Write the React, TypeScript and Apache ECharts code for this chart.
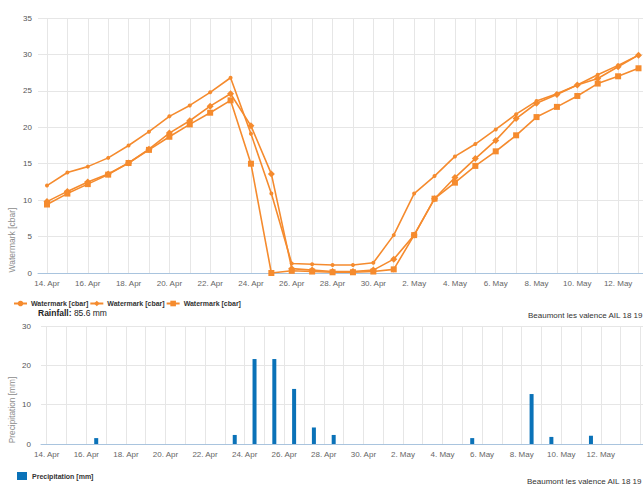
import React, { useEffect, useRef } from "react";
import * as echarts from "echarts";

// Day index 0 = 14 Apr, one value per day up to 13 May
const tickDays = [0, 2, 4, 6, 8, 10, 12, 14, 16, 18, 20, 22, 24, 26, 28];
const tickLabels = [
  "14. Apr", "16. Apr", "18. Apr", "20. Apr", "22. Apr", "24. Apr", "26. Apr", "28. Apr",
  "30. Apr", "2. May", "4. May", "6. May", "8. May", "10. May", "12. May",
];

const watermarkA = [
  12.0, 13.8, 14.6, 15.8, 17.5, 19.4, 21.5, 23.0, 24.8, 26.8, 19.1, 10.9, 1.3, 1.2, 1.1,
  1.1, 1.4, 5.2, 10.9, 13.3, 16.0, 17.7, 19.7, 21.8, 23.6, 24.6, 25.8, 27.2, 28.5, 29.9,
];
const watermarkB = [
  9.8, 11.2, 12.5, 13.6, 15.1, 17.0, 19.2, 20.9, 22.9, 24.6, 20.2, 13.6, 0.6, 0.4, 0.2,
  0.2, 0.4, 1.9, 5.2, 10.2, 13.1, 15.7, 18.2, 21.2, 23.3, 24.5, 25.8, 26.7, 28.3, 29.9,
];
const watermarkC = [
  9.4, 10.9, 12.2, 13.5, 15.1, 16.9, 18.7, 20.4, 22.0, 23.7, 15.0, 0.0, 0.3, 0.2, 0.1,
  0.1, 0.2, 0.5, 5.2, 10.2, 12.4, 14.7, 16.7, 18.9, 21.4, 22.8, 24.3, 26.0, 27.0, 28.1,
];

// Precipitation measured at midday of these days
const precipDays = [2, 9, 10, 11, 12, 13, 14, 21, 24, 25, 27];
const precipValues = [1.5, 2.3, 21.6, 21.6, 14.0, 4.2, 2.3, 1.5, 12.7, 1.8, 2.1];

const stationName = "Beaumont les valence AIL 18 19";

const ORANGE = "#f58b2e";
const BLUE = "#0a72b8";
const GRID = "#e6e6e6";
const FONT = "Liberation Sans";

export default function App() {
  const ref = useRef<HTMLDivElement>(null);

  useEffect(() => {
    if (!ref.current) return;
    const chart = echarts.init(ref.current, undefined, { renderer: "svg" });

    const toPairs = (arr: number[]) => arr.map((v, i) => [i, v]);
    const rainSum = precipValues.reduce((a, b) => a + b, 0);
    const topGridDays = watermarkA.map((_, i) => i);
    const bottomGridDays = [...topGridDays, topGridDays.length];
    const labelFmt = (v: number) => {
      const k = tickDays.indexOf(Math.round(v));
      return k >= 0 ? tickLabels[k] : "";
    };

    const xCommon = {
      type: "value",
      splitLine: { show: false },
      axisTick: { show: false },
      axisLine: { show: true, lineStyle: { color: "#a9c4de", width: 1 } },
      axisLabel: {
        customValues: tickDays,
        formatter: labelFmt,
        color: "#666",
        fontSize: 8,
        fontFamily: FONT,
        margin: 6,
      },
    };

    const gridMarkLine = (days: number[]) => ({
      silent: true,
      symbol: ["none", "none"],
      label: { show: false },
      lineStyle: { color: GRID, type: "solid", width: 1 },
      emphasis: { disabled: true },
      data: days.map((d) => ({ xAxis: d })),
    });

    const lineSeries = (name: string, arr: number[], symbol: string, size: number) => ({
      name,
      type: "line",
      xAxisIndex: 0,
      yAxisIndex: 0,
      data: toPairs(arr),
      symbol,
      symbolSize: size,
      showSymbol: true,
      z: 5,
      lineStyle: { color: ORANGE, width: 1.6 },
      itemStyle: { color: ORANGE, borderWidth: 0 },
    });

    chart.setOption({
      animation: false,
      textStyle: { fontFamily: FONT },
      grid: [
        { left: 38, top: 18, width: 605, height: 255 },
        { left: 41, top: 326, width: 602, height: 118 },
      ],
      xAxis: [
        { ...xCommon, gridIndex: 0, min: -0.44, max: 29.22 },
        { ...xCommon, gridIndex: 1, min: -0.29, max: 30.13 },
      ],
      yAxis: [
        {
          type: "value",
          gridIndex: 0,
          min: 0,
          max: 35,
          interval: 5,
          axisLine: { show: false },
          axisTick: { show: false },
          splitLine: { lineStyle: { color: GRID } },
          axisLabel: { color: "#555", fontSize: 8, fontFamily: FONT, margin: 6 },
        },
        {
          type: "value",
          gridIndex: 1,
          min: 0,
          max: 30,
          interval: 10,
          axisLine: { show: false },
          axisTick: { show: false },
          splitLine: { lineStyle: { color: GRID } },
          axisLabel: { color: "#555", fontSize: 8, fontFamily: FONT, margin: 10 },
        },
      ],
      legend: [
        {
          data: ["Watermark A", "Watermark B", "Watermark C"],
          formatter: () => "Watermark [cbar]",
          left: 13,
          top: 300,
          itemGap: 1,
          itemWidth: 13,
          itemHeight: 7,
          padding: 0,
          selectedMode: false,
          textStyle: { fontSize: 7, fontWeight: "bold", color: "#333", fontFamily: FONT, padding: [0, 0, 0, -1] },
        },
        {
          data: ["Precipitation [mm]"],
          left: 17,
          top: 472,
          icon: "rect",
          itemWidth: 10,
          itemHeight: 8,
          padding: 0,
          selectedMode: false,
          textStyle: { fontSize: 7, fontWeight: "bold", color: "#333", fontFamily: FONT },
        },
      ],
      graphic: [
        {
          type: "text",
          x: 12,
          y: 240,
          rotation: Math.PI / 2,
          style: {
            text: "Watermark [cbar]",
            fill: "#8c8c8c",
            fontSize: 8.5,
            fontFamily: FONT,
            align: "center",
            verticalAlign: "middle",
          },
        },
        {
          type: "text",
          x: 12,
          y: 410,
          rotation: Math.PI / 2,
          style: {
            text: "Precipitation [mm]",
            fill: "#8c8c8c",
            fontSize: 8.3,
            fontFamily: FONT,
            align: "center",
            verticalAlign: "middle",
          },
        },
        {
          type: "text",
          x: 38,
          y: 313,
          style: {
            text: `{b|Rainfall:} ${rainSum.toFixed(1)} mm`,
            rich: { b: { fontWeight: "bold", fontSize: 8.5, fill: "#222", fontFamily: FONT } },
            fill: "#222",
            fontSize: 8.5,
            fontFamily: FONT,
            verticalAlign: "middle",
          },
        },
        {
          type: "text",
          x: 528,
          y: 315,
          style: { text: stationName, fill: "#333", fontSize: 8, fontFamily: FONT, verticalAlign: "middle" },
        },
        {
          type: "text",
          x: 527,
          y: 481,
          style: { text: stationName, fill: "#333", fontSize: 8, fontFamily: FONT, verticalAlign: "middle" },
        },
      ],
      series: [
        {
          name: "grid-top",
          type: "line",
          xAxisIndex: 0,
          yAxisIndex: 0,
          data: [],
          z: 1,
          markLine: gridMarkLine(topGridDays),
        },
        {
          name: "grid-bottom",
          type: "line",
          xAxisIndex: 1,
          yAxisIndex: 1,
          data: [],
          z: 1,
          markLine: gridMarkLine(bottomGridDays),
        },
        lineSeries("Watermark A", watermarkA, "circle", 4),
        lineSeries("Watermark B", watermarkB, "diamond", 7),
        lineSeries("Watermark C", watermarkC, "rect", 6),
        {
          name: "Precipitation [mm]",
          type: "bar",
          xAxisIndex: 1,
          yAxisIndex: 1,
          barWidth: 4,
          z: 5,
          itemStyle: { color: BLUE },
          data: precipDays.map((d, i) => [d + 0.5, precipValues[i]]),
        },
      ],
    });

    return () => chart.dispose();
  }, []);

  return (
    <div
      ref={ref}
      style={{ position: "absolute", left: 0, top: 0, width: 643, height: 488 }}
    />
  );
}
